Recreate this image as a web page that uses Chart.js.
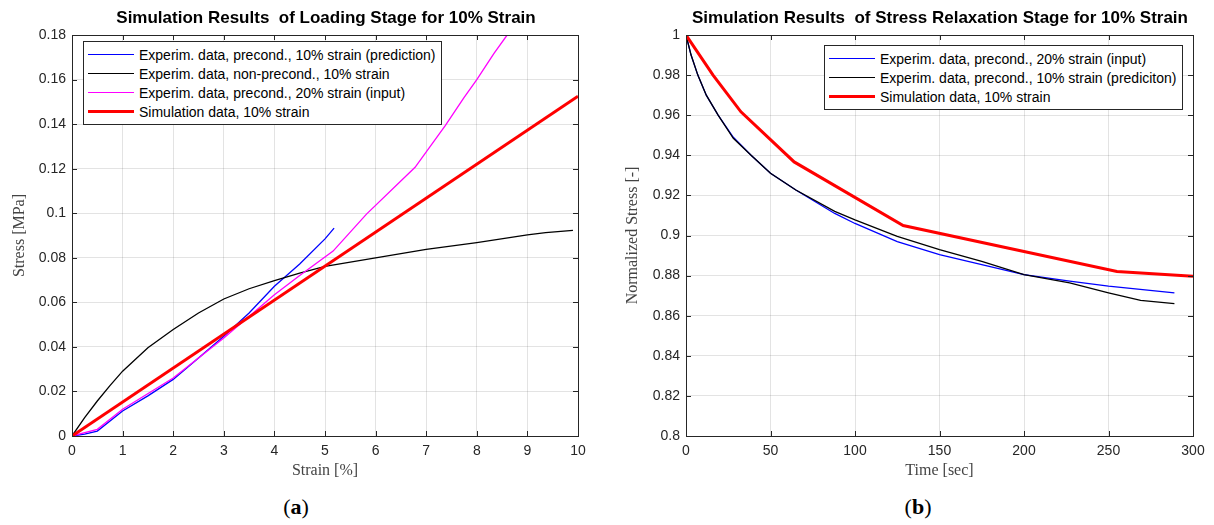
<!DOCTYPE html>
<html>
<head>
<meta charset="utf-8">
<script src="https://cdn.jsdelivr.net/npm/chart.js@4.4.0/dist/chart.umd.min.js"></script>
<style>
  body { margin: 0; background: #fff; width: 1214px; height: 525px; position: relative; overflow: hidden; font-family: "Liberation Sans", Arial, sans-serif; }
  canvas { position: absolute; top: 0; }
  .ttl { position: absolute; top: 8px; font-weight: bold; font-size: 17px; color: #000; white-space: nowrap; transform: translateX(-50%); }
  .legend { position: absolute; background: #fff; border: 1px solid #262626; font-size: 14px; color: #000; padding: 3px 6px 3px 4px; z-index: 2; }
  .legend div { height: 19px; white-space: nowrap; display: flex; align-items: center; }
  .legend span.ln { display: inline-block; width: 46px; margin-right: 5px; }
  .cap { position: absolute; top: 494px; font-family: "Liberation Serif", serif; font-size: 22px; color: #000; transform: translateX(-50%); }
</style>
</head>
<body>
<canvas id="chartA" width="600" height="490" style="left:0"></canvas>
<canvas id="chartB" width="614" height="490" style="left:600px"></canvas>
<div class="ttl" style="left:326px">Simulation Results&nbsp; of Loading Stage for 10% Strain</div>
<div class="ttl" style="left:940px">Simulation Results&nbsp; of Stress Relaxation Stage for 10% Strain</div>
<div class="legend" id="legA" style="left:83px; top:41px"></div>
<div class="legend" id="legB" style="left:824px; top:45px"></div>
<div class="cap" style="left:296px">(<b>a</b>)</div>
<div class="cap" style="left:918px">(<b>b</b>)</div>
<script>
// ---- (a) loading stage ----
const strainBlue = [0, 0.25, 0.5, 1, 1.5, 2, 2.5, 3, 3.5, 4, 4.5, 5, 5.18];
const stressBlue = [0, 0.0008, 0.0022, 0.0112, 0.018, 0.0254, 0.035, 0.0448, 0.0552, 0.0672, 0.0772, 0.0885, 0.0933];
const strainBlack = [0, 0.25, 0.5, 0.75, 1, 1.5, 2, 2.5, 3, 3.5, 4, 4.5, 5, 6, 7, 8, 9, 9.36, 9.9];
const stressBlack = [0, 0.0082, 0.0157, 0.0226, 0.0291, 0.0396, 0.0478, 0.0552, 0.0615, 0.0661, 0.0697, 0.0731, 0.0761, 0.08, 0.0838, 0.0868, 0.0903, 0.0913, 0.0923];
const strainMagenta = [0, 0.5, 1, 2, 3, 4, 4.5, 5.16, 5.82, 6.78, 7.38, 7.75, 8, 8.34, 8.6];
const stressMagenta = [0, 0.003, 0.012, 0.026, 0.044, 0.0634, 0.072, 0.083, 0.0996, 0.1206, 0.1394, 0.152, 0.16, 0.1717, 0.18];
const strainRed = [0, 10];
const stressRed = [0, 0.1525];
const labelsA = ['Experim. data, precond., 10% strain (prediction)', 'Experim. data, non-precond., 10% strain',
                 'Experim. data, precond., 20% strain (input)', 'Simulation data, 10% strain'];
const strainTicks = [0, 1, 2, 3, 4, 5, 6, 7, 8, 9, 10];
const stressTicks = [0, 0.02, 0.04, 0.06, 0.08, 0.1, 0.12, 0.14, 0.16, 0.18];
const stressTickLabels = ['0', '0.02', '0.04', '0.06', '0.08', '0.1', '0.12', '0.14', '0.16', '0.18'];

// ---- (b) stress relaxation stage ----
const timeBlue = [0, 3, 7, 12, 19, 28, 38.5, 50, 65, 88, 100, 125, 150, 175, 200, 227, 250, 289];
const normBlue = [1, 0.99, 0.98, 0.97, 0.96, 0.949, 0.94, 0.931, 0.9227, 0.911, 0.906, 0.897, 0.8905, 0.8855, 0.8805, 0.8772, 0.8747, 0.8714];
const timeBlack = [0, 3, 7, 12, 19, 28, 38.5, 50, 65, 88, 100, 125, 150, 175, 200, 227, 250, 269, 289];
const normBlack = [1, 0.99, 0.98, 0.97, 0.96, 0.9485, 0.94, 0.931, 0.9227, 0.912, 0.9078, 0.8996, 0.893, 0.8871, 0.8805, 0.8764, 0.8714, 0.8676, 0.866];
const timeRed = [0, 16, 32.5, 64, 128.5, 255, 300];
const normRed = [1, 0.98, 0.9617, 0.9367, 0.905, 0.882, 0.8797];
const labelsB = ['Experim. data, precond., 20% strain (input)', 'Experim. data, precond., 10% strain (prediciton)', 'Simulation data, 10% strain'];
const timeTicks = [0, 50, 100, 150, 200, 250, 300];
const normTicks = [0.8, 0.82, 0.84, 0.86, 0.88, 0.9, 0.92, 0.94, 0.96, 0.98, 1];
const normTickLabels = ['0.8', '0.82', '0.84', '0.86', '0.88', '0.9', '0.92', '0.94', '0.96', '0.98', '1'];

const pts = (xs, ys) => xs.map((x, i) => ({ x: x, y: ys[i] }));
const axisColor = '#262626';

// box round the plot with small inward ticks, MATLAB style
const frame = {
  id: 'frame',
  afterDraw(chart) {
    const { ctx, chartArea: a, scales } = chart;
    ctx.save();
    ctx.strokeStyle = axisColor;
    ctx.lineWidth = 1;
    ctx.beginPath();
    scales.x.ticks.forEach(t => {
      const px = Math.round(scales.x.getPixelForValue(t.value)) + 0.5;
      ctx.moveTo(px, a.bottom); ctx.lineTo(px, a.bottom - 5);
      ctx.moveTo(px, a.top); ctx.lineTo(px, a.top + 5);
    });
    scales.y.ticks.forEach(t => {
      const py = Math.round(scales.y.getPixelForValue(t.value)) + 0.5;
      ctx.moveTo(a.left, py); ctx.lineTo(a.left + 5, py);
      ctx.moveTo(a.right, py); ctx.lineTo(a.right - 5, py);
    });
    ctx.stroke();
    ctx.strokeRect(Math.round(a.left) + 0.5, Math.round(a.top) + 0.5, Math.round(a.right - a.left), Math.round(a.bottom - a.top));
    ctx.restore();
  }
};

function makeChart(id, cfg) {
  const tickFont = { family: '"Liberation Sans", Arial, sans-serif', size: 14 };
  const titleFont = { family: '"Liberation Serif", "Times New Roman", serif', size: 16 };
  return new Chart(document.getElementById(id), {
    type: 'line',
    data: { datasets: cfg.datasets },
    options: {
      responsive: false,
      animation: false,
      layout: { padding: { top: 35, right: cfg.padRight, left: 0, bottom: 0 } },
      plugins: { legend: { display: false }, tooltip: { enabled: false } },
      elements: { point: { radius: 0 }, line: { tension: 0 } },
      scales: {
        x: {
          type: 'linear', min: cfg.xTicks[0], max: cfg.xTicks[cfg.xTicks.length - 1],
          afterBuildTicks: s => { s.ticks = cfg.xTicks.map(v => ({ value: v })); },
          afterFit: s => { s.height = 54; },
          grid: { color: 'rgba(38,38,38,0.13)', drawTicks: false },
          border: { display: false },
          ticks: { font: tickFont, color: axisColor, padding: 7, maxRotation: 0, callback: v => String(v) },
          title: { display: true, text: cfg.xTitle, font: titleFont, color: '#444', padding: { bottom: 10 } }
        },
        y: {
          type: 'linear', min: cfg.yTicks[0], max: cfg.yTicks[cfg.yTicks.length - 1],
          afterBuildTicks: s => { s.ticks = cfg.yTicks.map(v => ({ value: v })); },
          afterFit: s => { s.width = cfg.yWidth; },
          grid: { color: 'rgba(38,38,38,0.13)', drawTicks: false },
          border: { display: false },
          ticks: { font: tickFont, color: axisColor, padding: 6, callback: (v, i) => cfg.yLabels[i] },
          title: { display: true, text: cfg.yTitle, font: titleFont, color: '#444', padding: { top: cfg.yTitlePad } }
        }
      }
    },
    plugins: [frame]
  });
}

function fillLegend(id, datasets) {
  const box = document.getElementById(id);
  datasets.forEach(d => {
    const row = document.createElement('div');
    const ln = document.createElement('span');
    ln.className = 'ln';
    ln.style.height = (d.borderWidth > 2 ? 3 : 1.5) + 'px';
    ln.style.background = d.borderColor;
    row.appendChild(ln);
    row.appendChild(document.createTextNode(d.label));
    box.appendChild(row);
  });
}

const dsA = [
  { label: labelsA[0], data: pts(strainBlue, stressBlue), borderColor: '#0000ff', borderWidth: 1.3, order: 3 },
  { label: labelsA[1], data: pts(strainBlack, stressBlack), borderColor: '#000000', borderWidth: 1.3, order: 2 },
  { label: labelsA[2], data: pts(strainMagenta, stressMagenta), borderColor: '#ff00ff', borderWidth: 1.3, order: 1 },
  { label: labelsA[3], data: pts(strainRed, stressRed), borderColor: '#ff0000', borderWidth: 3, order: 0 }
];
const dsB = [
  { label: labelsB[0], data: pts(timeBlue, normBlue), borderColor: '#0000ff', borderWidth: 1.3, order: 2 },
  { label: labelsB[1], data: pts(timeBlack, normBlack), borderColor: '#000000', borderWidth: 1.3, order: 1 },
  { label: labelsB[2], data: pts(timeRed, normRed), borderColor: '#ff0000', borderWidth: 3, order: 0 }
];

fillLegend('legA', dsA);
fillLegend('legB', dsB);
makeChart('chartA', {
  datasets: dsA, xTicks: strainTicks, yTicks: stressTicks, yLabels: stressTickLabels,
  xTitle: 'Strain [%]', yTitle: 'Stress [MPa]', yWidth: 72, yTitlePad: 10, padRight: 22
});
makeChart('chartB', {
  datasets: dsB, xTicks: timeTicks, yTicks: normTicks, yLabels: normTickLabels,
  xTitle: 'Time [sec]', yTitle: 'Normalized Stress [-]', yWidth: 86, yTitlePad: 23, padRight: 21
});
</script>
</body>
</html>
